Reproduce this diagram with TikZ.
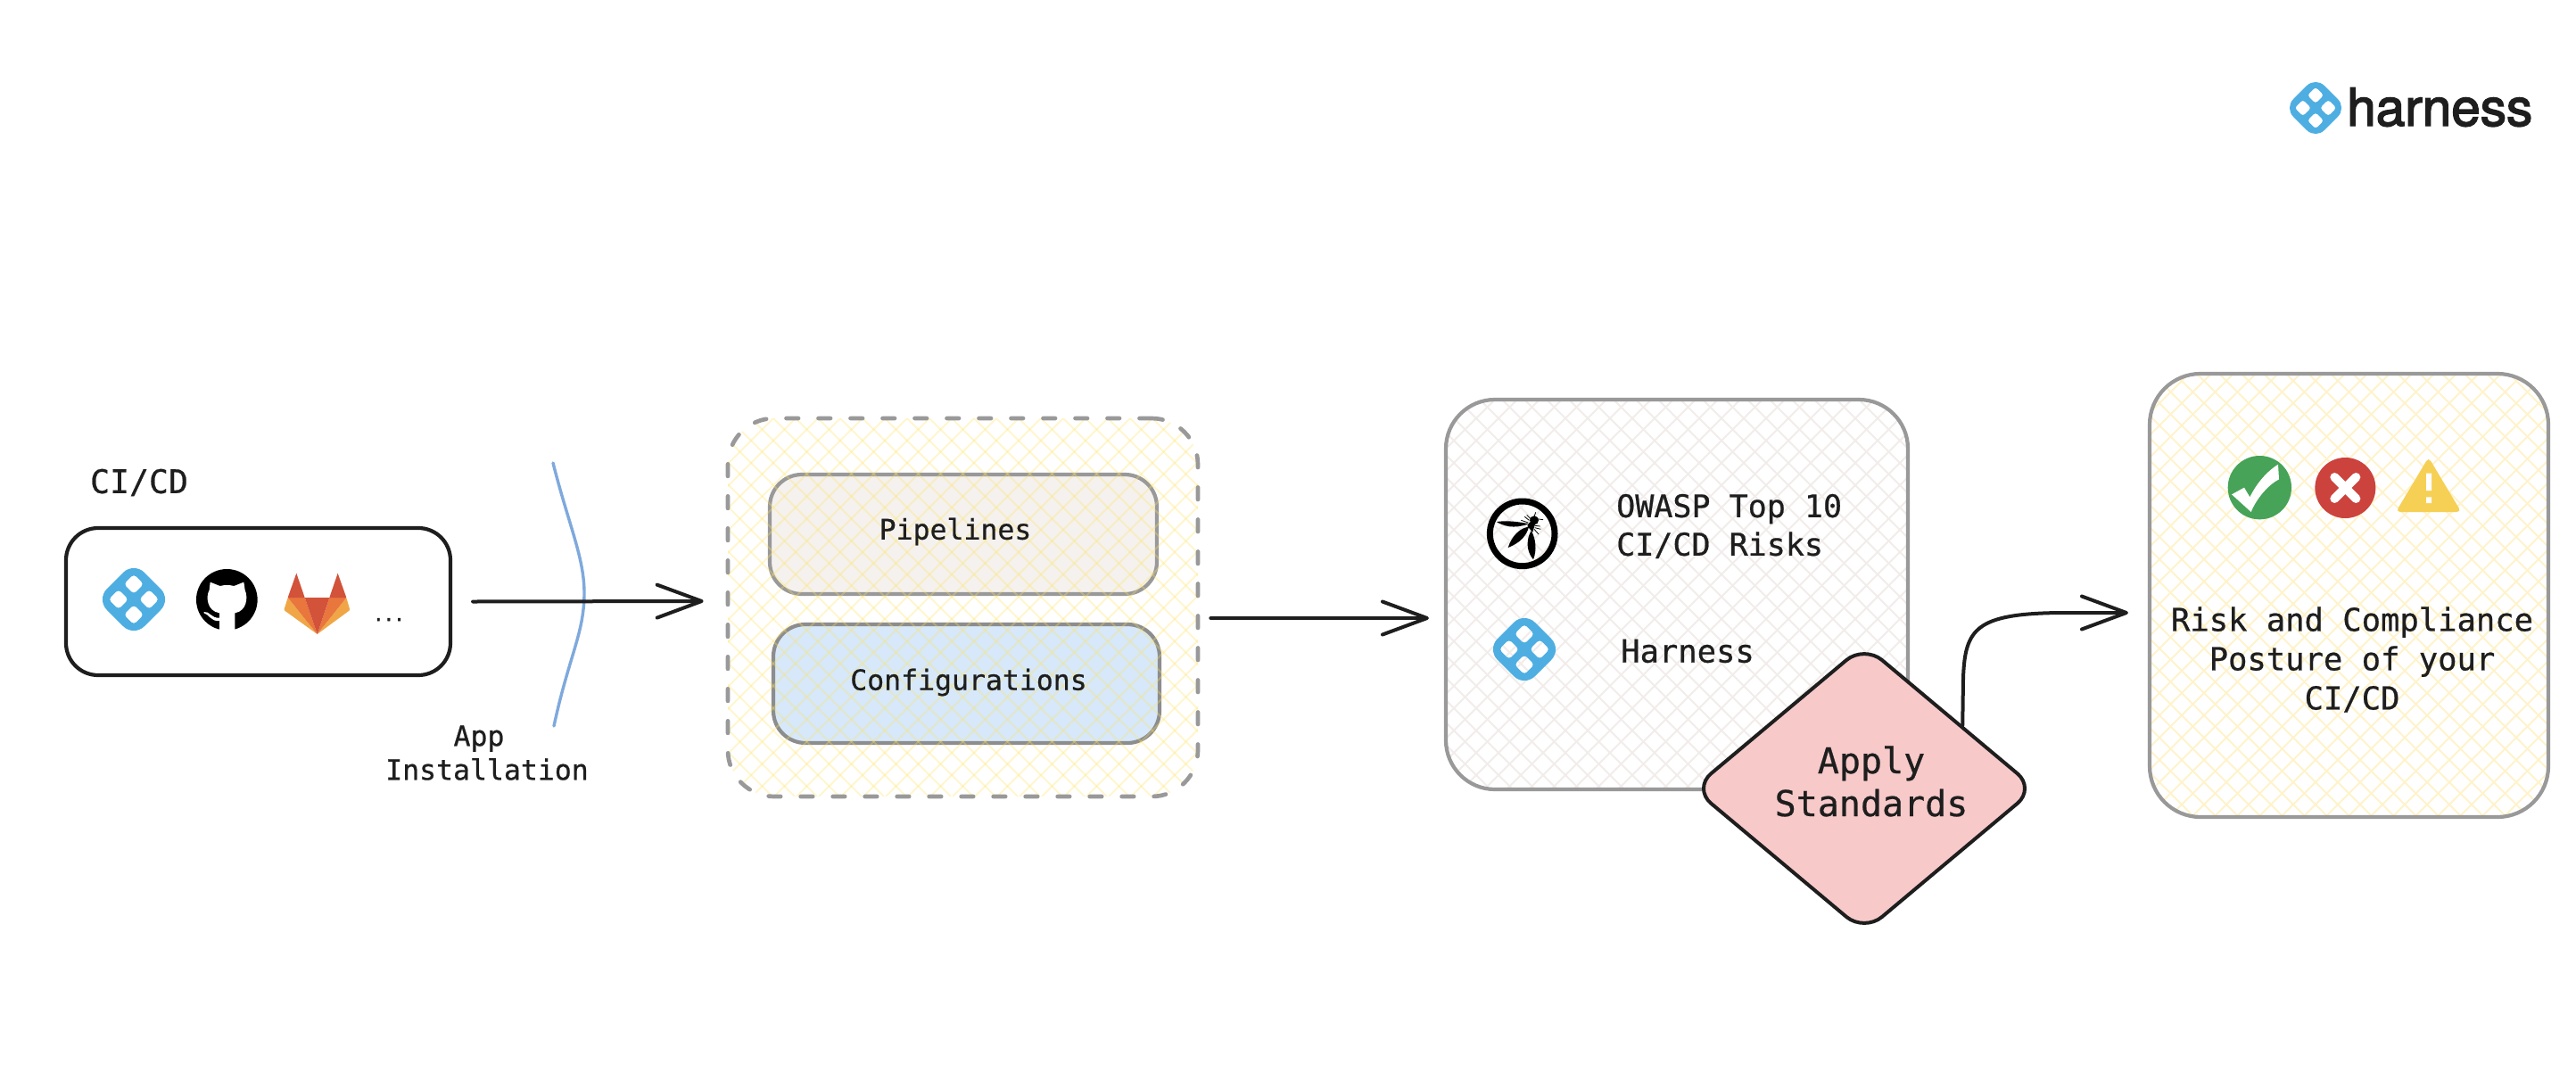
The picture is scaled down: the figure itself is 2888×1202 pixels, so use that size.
\documentclass[tikz,border=0pt]{standalone}
\usepackage{fontspec}
\usetikzlibrary{arrows.meta,shapes.geometric}
\newfontfamily\codefont[FakeBold=0.6]{DejaVu Sans Mono}
\newfontfamily\dotfont[FakeBold=3]{DejaVu Sans Mono}
\newfontfamily\logofont[FakeBold=2.5]{TeX Gyre Heros}
\definecolor{ink}{HTML}{1E1E1E}
\definecolor{hblue}{HTML}{4EAEE2}
\definecolor{softgrey}{HTML}{999999}
\definecolor{hatchyellow}{HTML}{FFF3CC}
\definecolor{hatchstrong}{HTML}{FFE45F}
\definecolor{hatchgrey}{HTML}{F2EDEB}
\definecolor{pipefill}{HTML}{F4F1EF}
\definecolor{conffill}{HTML}{D6E8FA}
\definecolor{pinkfill}{HTML}{F7C9C9}
\definecolor{curveblue}{HTML}{7FA9DD}
\definecolor{glred}{HTML}{D2523A}
\definecolor{glorange}{HTML}{E9763C}
\definecolor{glyellow}{HTML}{F0A647}
\definecolor{okgreen}{HTML}{47A357}
\definecolor{badred}{HTML}{CC423D}
\definecolor{warnyellow}{HTML}{F6D055}
\tikzset{
  code/.style={font=\codefont, text=ink, inner sep=0pt, align=center},
  stroke/.style={draw=ink, line width=4pt, line cap=round, line join=round},
  conn/.style={stroke, -{Straight Barb[length=50pt,width=37pt,line width=4pt,round]}},
  softbox/.style={draw=softgrey, line width=4.2pt, inner sep=0pt, rounded corners=#1},
  softbox/.default=36pt,
  hatchline/.style={line width=1.9pt},
}
\newcommand\hatchbox[7]{%
  \begin{scope}
    \clip[rounded corners=#5pt] (#1,#2) rectangle (#3,#4);
    \pgfmathsetmacro\hh{#4-#2}
    \foreach \k in {0,...,42}{
      \draw[hatchline,draw=#6,opacity=#7] ({#1-\hh+\k*25},#2) -- ++(\hh,\hh);
      \draw[hatchline,draw=#6,opacity=#7] ({#3+\hh-\k*25},#2) -- ++(-\hh,\hh);
    }
  \end{scope}}
\newcommand\hicon[3]{%
  \begin{scope}[shift={(#1,#2)}]
    \pgfmathsetmacro\so{#3*1.2}\pgfmathsetmacro\ro{#3*0.48}
    \pgfmathsetmacro\co{#3*0.49}\pgfmathsetmacro\ho{#3*0.32}\pgfmathsetmacro\rh{#3*0.11}
    \fill[hblue,even odd rule,rounded corners=\ro pt]
      (\so,0) -- (0,\so) -- (-\so,0) -- (0,-\so) -- cycle
      [rounded corners=\rh pt]
      ({\co+\ho},0) -- (\co,\ho) -- ({\co-\ho},0) -- (\co,-\ho) -- cycle
      ({-\co+\ho},0) -- (-\co,\ho) -- ({-\co-\ho},0) -- (-\co,-\ho) -- cycle
      (\ho,\co) -- (0,{\co+\ho}) -- (-\ho,\co) -- (0,{\co-\ho}) -- cycle
      (\ho,-\co) -- (0,{-\co+\ho}) -- (-\ho,-\co) -- (0,{-\co-\ho}) -- cycle;
  \end{scope}}
\begin{document}
\begin{tikzpicture}[x=1pt,y=-1pt]
\useasboundingbox (0,0) rectangle (2888,1202);
\fill[white] (0,0) rectangle (2888,1202);

% CI/CD box
\node[code,font=\codefont\fontsize{36.5}{44}\selectfont] (cicdlabel) at (156,541) {CI/CD};
\node[stroke,line width=4.2pt,rounded corners=36pt,minimum width=431pt,minimum height=165pt,inner sep=0pt] (cicd) at (289.5,674.5) {};
\hicon{150}{672}{35}
\begin{scope}[shift={(90,610)},x=.33333pt,y=-.33333pt]
  % GitHub
  \fill[black] (493,187) circle[radius=103];
  \fill[white] (437,128) -- (470,141) .. controls (485,137) and (502,137) .. (517,141) -- (550,128) -- (554,155)
     .. controls (565,180) and (560,225) .. (520,232) -- (520,292) -- (468,292) -- (468,232)
     .. controls (425,225) and (422,175) .. (434,155) -- cycle;
  \fill[white] (416,228) .. controls (435,225) and (440,250) .. (468,248) -- (468,258)
     .. controls (440,262) and (432,235) .. (416,232) -- cycle;
  % GitLab
  \fill[glyellow,rounded corners=1pt] (698,180) -- (685,222) -- (797,303) -- cycle;
  \fill[glyellow,rounded corners=1pt] (895,180) -- (907,222) -- (797,303) -- cycle;
  \fill[glorange] (698,180) -- (755,180) -- (797,303) -- cycle;
  \fill[glorange] (895,180) -- (838,180) -- (797,303) -- cycle;
  \fill[glred] (755,180) -- (838,180) -- (797,303) -- cycle;
  \fill[glred] (727,98) -- (698,180) -- (755,180) -- cycle;
  \fill[glred] (866,98) -- (838,180) -- (895,180) -- cycle;
\end{scope}
\node[code,font=\dotfont\fontsize{19.5}{19}\selectfont,anchor=base] (dots) at (436,696) {...};

% Installation curve
\draw[curveblue,line width=3.4pt,line cap=round] (620,519) .. controls (638,590) and (655,625) .. (655,665) .. controls (655,710) and (638,735) .. (621,814);
\node[code,font=\codefont\fontsize{31.5}{38}\selectfont] (applabel) at (546,844) {App\hspace*{18pt}\\Installation};

% Dashed group
\node[softbox=36pt,fill=pipefill,minimum width=434pt,minimum height=134pt] (pipelines) at (1080,599) {};
\node[softbox=36pt,draw=softgrey!92!black,fill=conffill,minimum width=433pt,minimum height=133pt] (configs) at (1083.5,766.5) {};
\hatchbox{816}{469}{1343}{893}{52}{hatchstrong}{0.3}
\node[softbox=52pt,line width=4.7pt,dash pattern=on 13.5pt off 22.5pt,line cap=round,minimum width=527pt,minimum height=424pt] (group) at (1079.5,681) {};
\node[code,font=\codefont\fontsize{31.5}{38}\selectfont] (pipetext) at (1071,596) {Pipelines};
\node[code,font=\codefont\fontsize{31.5}{38}\selectfont] (conftext) at (1086,765) {Configurations};

% Standards card
\hatchbox{1621}{448}{2139}{885}{55}{hatchgrey}{1}
\node[softbox=55pt,minimum width=518pt,minimum height=437pt] (standards) at (1880,666.5) {};
\begin{scope}[shift={(1650,540)},x=.33333pt,y=-.33333pt]
  \draw[black,line width=7pt] (170,175) circle[radius=109];
  \fill[black] (83,135) .. controls (120,130) and (160,135) .. (192,142) .. controls (160,152) and (125,160) .. (83,135);
  \fill[black] (122,222) .. controls (135,180) and (165,155) .. (192,152) .. controls (185,180) and (165,205) .. (122,222);
  \fill[black] (207,262) .. controls (180,230) and (185,190) .. (200,165) .. controls (215,190) and (220,230) .. (207,262);
  \fill[black] (210,130) circle[radius=15];
  \fill[black] (187,150) .. controls (195,130) and (205,130) .. (215,135) -- (205,170) -- cycle;
  \draw[black,line width=.8pt] (218,125) -- (240,128) (210,118) -- (215,103) (190,138) -- (166,130) (193,130) -- (178,118) (198,125) -- (185,112)
     (212,155) -- (232,160) (210,160) -- (225,177) (212,148) -- (230,150);
\end{scope}
\hicon{1709}{728}{35}
\node[code,font=\codefont\fontsize{35}{43}\selectfont,align=left,anchor=west] (owasp) at (1812,590) {OWASP Top 10\\CI/CD Risks};
\node[code,font=\codefont\fontsize{35.5}{43}\selectfont,anchor=west] (harnesstext) at (1817,730) {Harness};

% Apply standards
\node[diamond,draw=ink,line width=4pt,line join=round,rounded corners=26pt,fill=pinkfill,minimum width=385pt,minimum height=323pt,inner sep=0pt] (apply) at (2090,884) {};
\node[code,font=\codefont\fontsize{40}{48}\selectfont] (applytext) at (2098,876) {Apply\\Standards};

% Result card
\hatchbox{2410}{419}{2857}{916}{57}{hatchyellow}{1}
\node[softbox=57pt,minimum width=447pt,minimum height=497pt] (result) at (2633.5,667.5) {};
\begin{scope}[shift={(2480,500)},x=.33333pt,y=-.33333pt]
  \fill[okgreen] (160,140) circle[radius=107];
  \fill[white] (66,163) -- (108,140) -- (127,172) .. controls (150,125) and (185,85) .. (222,62) -- (225,112)
     .. controls (190,130) and (150,175) .. (131,222) -- cycle;
  \fill[badred] (448,141) circle[radius=102];
  \draw[white,line width=10pt,line cap=round] (412,105) -- (484,177) (484,105) -- (412,177);
  \fill[warnyellow,rounded corners=5pt] (728,38) -- (618,222) -- (838,222) -- cycle;
  \fill[white] (720,92) rectangle (738,150) (720,172) rectangle (738,192);
\end{scope}
\node[code,font=\codefont\fontsize{35.5}{44}\selectfont] (risk) at (2637,739.5) {Risk and Compliance\\Posture of your\\CI/CD};

% Logo
\hicon{2596}{121}{29}
\node[anchor=base west,inner sep=0pt,text=ink,font=\logofont\fontsize{58.5}{58}\selectfont] (logo) at (2631,141) {harness};

% Connectors
\draw[conn] ([xshift=23pt]cicd.east) -- ([xshift=-25pt,yshift=7pt]group.west);
\draw[conn] ([xshift=12pt,yshift=-12pt]group.east) -- ([xshift=-17pt,yshift=-26.5pt]standards.west);
\draw[conn] ([xshift=13pt,yshift=-11pt]apply.north east) -- (2201,760) .. controls (2203,705) and (2215,688) .. (2310,687) -- ([xshift=-22pt,yshift=-19.5pt]result.west);
\end{tikzpicture}
\end{document}
